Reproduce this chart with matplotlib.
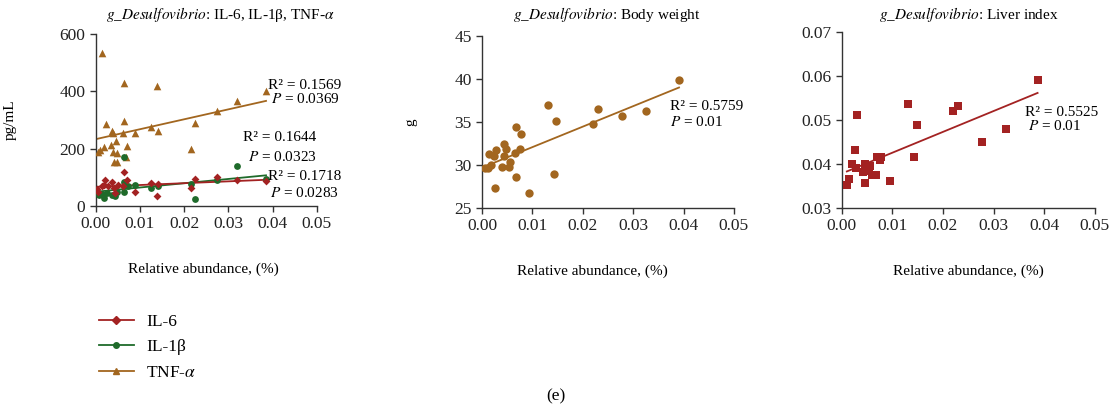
import numpy as np
import matplotlib
matplotlib.use("Agg")
import matplotlib.pyplot as plt
from matplotlib.lines import Line2D

plt.rcParams['font.family'] = ['Liberation Serif', 'DejaVu Serif']
plt.rcParams['mathtext.fontset'] = 'stix'
plt.rcParams['font.size'] = 11

BROWN = "#a2661f"
RED = "#a32222"
GREEN = "#1f6b2b"

# panel 1: cytokines vs relative abundance
tnf_x = [0.0014, 0.00045, 0.001, 0.0023, 0.002, 0.0038, 0.004, 0.0035, 0.0045, 0.004,
         0.0041, 0.0049, 0.0049, 0.0063, 0.0063, 0.0061, 0.0069, 0.0072, 0.0089, 0.0124,
         0.0138, 0.0142, 0.0216, 0.0225, 0.0274, 0.0319, 0.0385]
tnf_y = [533, 190, 196, 287, 207, 263, 254, 213, 225, 190,
         155, 155, 186, 431, 298, 254, 170, 210, 256, 275,
         420, 260, 198, 291, 330, 365, 400]

il6_x = [0.0002, 0.0006, 0.0014, 0.0021, 0.0019, 0.0029, 0.0036, 0.0042, 0.0044, 0.0051,
         0.0064, 0.0061, 0.0072, 0.0089, 0.0124, 0.0138, 0.0142, 0.0216, 0.0225, 0.0274,
         0.0319, 0.0385]
il6_y = [58, 50, 68, 91, 73, 68, 82, 62, 44, 73,
         117, 68, 89, 47, 79, 35, 77, 62, 93, 102,
         91, 87]

il1b_x = [0.0002, 0.0008, 0.0014, 0.0019, 0.0025, 0.0036, 0.0044, 0.0048, 0.0063, 0.0064,
          0.0063, 0.0074, 0.0089, 0.0124, 0.0142, 0.0216, 0.0225, 0.0274, 0.032, 0.0385]
il1b_y = [50, 38, 41, 27, 44, 38, 33, 50, 172, 85,
          47, 68, 73, 62, 68, 76, 24, 89, 140, 95]

# panel 2: body weight
bw_x = [0.00066, 0.0011, 0.0018, 0.0013, 0.0024, 0.0028, 0.0026, 0.004, 0.0043, 0.0044,
        0.0048, 0.0055, 0.0053, 0.0066, 0.0068, 0.0068, 0.0075, 0.0077, 0.0094, 0.013,
        0.0143, 0.0147, 0.0221, 0.023, 0.0278, 0.0325, 0.0391]
bw_y = [29.6, 29.6, 29.95, 31.3, 31.1, 31.8, 27.3, 29.8, 32.5, 31.1,
        31.9, 30.3, 29.8, 31.4, 34.4, 28.6, 31.9, 33.6, 26.7, 37.0,
        28.9, 35.1, 34.75, 36.5, 35.7, 36.3, 39.9]

# panel 3: liver index
li_x = [0.001, 0.0015, 0.002, 0.0026, 0.003, 0.0028, 0.0041, 0.0046, 0.0046, 0.0051,
        0.0055, 0.0053, 0.0059, 0.0068, 0.007, 0.0078, 0.0076, 0.0095, 0.013, 0.0143,
        0.0148, 0.022, 0.0229, 0.0278, 0.0324, 0.0387]
li_y = [0.0353, 0.0367, 0.0400, 0.0431, 0.0511, 0.0391, 0.0381, 0.0400, 0.0357, 0.0389,
        0.0395, 0.0385, 0.0376, 0.0374, 0.0416, 0.0417, 0.0410, 0.0361, 0.0536, 0.0417,
        0.0488, 0.0520, 0.0531, 0.0449, 0.0480, 0.0592]


def fit_line(ax, x, y, color):
    k, b = np.polyfit(x, y, 1)
    xs = np.array([min(x), max(x)])
    ax.plot(xs, k * xs + b, color=color, lw=1.3, zorder=2)


def style(ax):
    for s in ["top", "right"]:
        ax.spines[s].set_visible(False)
    for s in ["left", "bottom"]:
        ax.spines[s].set_color("#333333")
        ax.spines[s].set_linewidth(1.0)
    ax.tick_params(direction="out", length=4, width=1, colors="#333333",
                   labelcolor="#222222", labelsize=12.5)
    ax.set_xlim(0, 0.05)
    ax.set_xticks(np.arange(0, 0.051, 0.01))
    ax.xaxis.set_major_formatter(plt.FormatStrFormatter("%.2f"))


fig = plt.figure(figsize=(11.12, 4.11), dpi=100)

ax1 = fig.add_axes([0.086, 0.499, 0.199, 0.418])
ax2 = fig.add_axes([0.4335, 0.494, 0.2265, 0.418])
ax3 = fig.add_axes([0.757, 0.494, 0.2275, 0.428])

# panel 1
style(ax1)
ax1.set_ylim(0, 600)
ax1.set_yticks([0, 200, 400, 600])
ax1.scatter(tnf_x, tnf_y, marker="^", s=30, color=BROWN, zorder=3, linewidths=0)
ax1.scatter(il1b_x, il1b_y, marker="o", s=24, color=GREEN, zorder=3, linewidths=0)
ax1.scatter(il6_x, il6_y, marker="D", s=16, color=RED, zorder=3, linewidths=0)
fit_line(ax1, tnf_x, tnf_y, BROWN)
fit_line(ax1, il1b_x, il1b_y, GREEN)
fit_line(ax1, il6_x, il6_y, RED)
ax1.set_ylabel("pg/mL")
ax1.yaxis.set_label_coords(-0.356, 0.5)
ax1.set_xlabel("Relative abundance, (%)")
ax1.xaxis.set_label_coords(0.485, -0.33)
kw = dict(fontsize=11, clip_on=False, ha="left", va="center")
ax1.text(0.0389, 420, "R² = 0.1569", **kw)
ax1.text(0.0397, 373, "$P$ = 0.0369", **kw)
ax1.text(0.0333, 238, "R² = 0.1644", **kw)
ax1.text(0.0345, 171, "$P$ = 0.0323", **kw)
ax1.text(0.0389, 102, "R² = 0.1718", **kw)
ax1.text(0.0393, 45, "$P$ = 0.0283", **kw)
fig.text(220 / 1112, 1 - 14 / 411, r"$\it{g\_Desulfovibrio}$: IL-6, IL-1β, TNF-$\alpha$",
         ha="center", va="center", fontsize=11)

# panel 2
style(ax2)
ax2.set_ylim(25, 45)
ax2.set_yticks([25, 30, 35, 40, 45])
ax2.scatter(bw_x, bw_y, marker="o", s=36, color=BROWN, zorder=3, linewidths=0)
fit_line(ax2, bw_x, bw_y, BROWN)
ax2.set_ylabel("g")
ax2.yaxis.set_label_coords(-0.258, 0.5)
ax2.set_xlabel("Relative abundance, (%)")
ax2.xaxis.set_label_coords(0.44, -0.33)
ax2.text(0.0373, 36.8, "R² = 0.5759", **kw)
ax2.text(0.0373, 35.0, "$P$ = 0.01", **kw)
fig.text(607 / 1112, 1 - 14 / 411, r"$\it{g\_Desulfovibrio}$: Body weight",
         ha="center", va="center", fontsize=11)

# panel 3
style(ax3)
ax3.set_ylim(0.03, 0.07)
ax3.set_yticks([0.03, 0.04, 0.05, 0.06, 0.07])
ax3.yaxis.set_major_formatter(plt.FormatStrFormatter("%.2f"))
ax3.scatter(li_x, li_y, marker="s", s=40, color=RED, zorder=3, linewidths=0)
fit_line(ax3, li_x, li_y, RED)
ax3.set_xlabel("Relative abundance, (%)")
ax3.xaxis.set_label_coords(0.5, -0.32)
ax3.text(0.0363, 0.0518, "R² = 0.5525", **kw)
ax3.text(0.0368, 0.0487, "$P$ = 0.01", **kw)
fig.text(969 / 1112, 1 - 14 / 411, r"$\it{g\_Desulfovibrio}$: Liver index",
         ha="center", va="center", fontsize=11)

# legend
handles = [
    Line2D([], [], color=RED, lw=1.3, marker="D", markersize=4),
    Line2D([], [], color=GREEN, lw=1.3, marker="o", markersize=4),
    Line2D([], [], color=BROWN, lw=1.3, marker="^", markersize=5),
]
fig.legend(handles, ["IL-6", "IL-1β", "TNF-$\\alpha$"], loc="upper left",
           bbox_to_anchor=(0.075, 0.275), frameon=False, handlelength=2.0,
           labelspacing=0.55, handletextpad=0.7, fontsize=12.5)

fig.text(0.5, 1 - 396 / 411, "(e)", ha="center", va="center", fontsize=12.5)

fig.savefig("out.png", dpi=100)
